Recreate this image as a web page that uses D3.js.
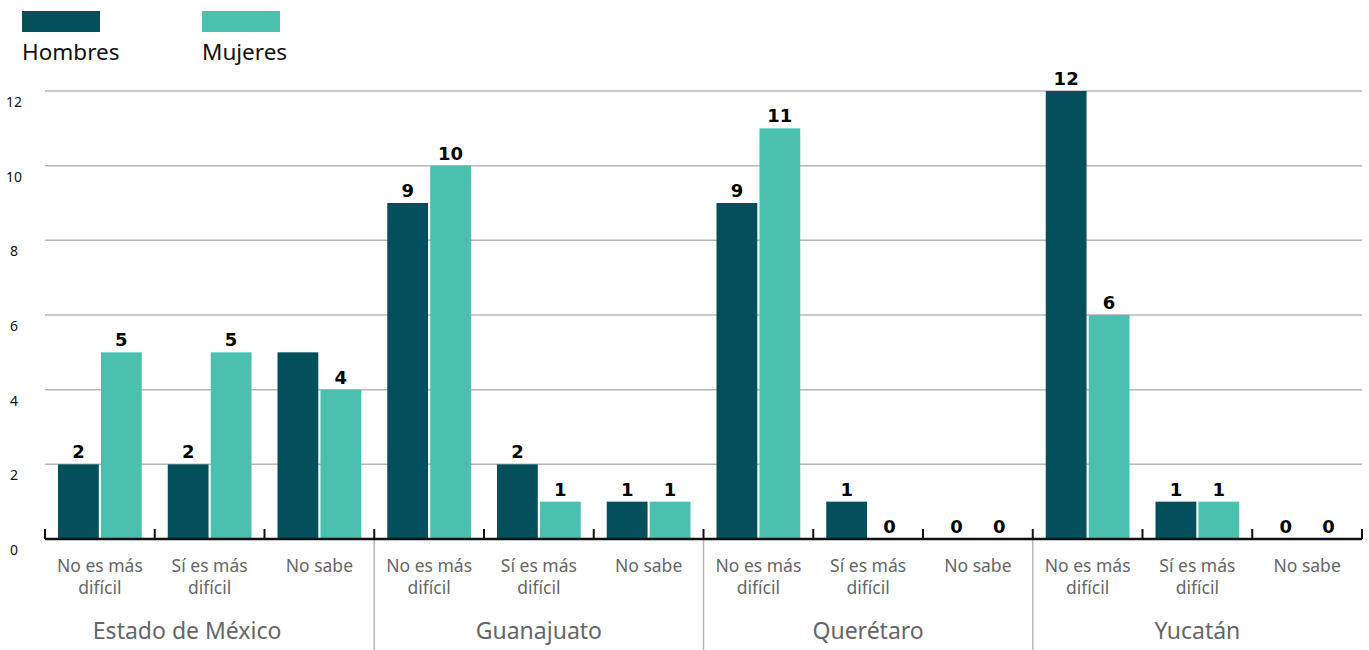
<!DOCTYPE html>
<html>
<head>
<meta charset="utf-8">
<script src="https://cdn.jsdelivr.net/npm/d3@7"></script>
<style>
  html, body { margin: 0; padding: 0; background: #fff; }
  svg { display: block; }
</style>
</head>
<body>
<svg id="chart" width="1369" height="650"></svg>
<script>
const groups = ["Estado de México", "Guanajuato", "Querétaro", "Yucatán"];
const answers = ["No es más difícil", "Sí es más difícil", "No sabe"];
const answerLines = [["No es más", "difícil"], ["Sí es más", "difícil"], ["No sabe"]];
const seriesNames = ["Hombres", "Mujeres"];
const hombres = [2, 2, 5, 9, 2, 1, 9, 1, 0, 12, 1, 0];
const mujeres = [5, 5, 4, 10, 1, 1, 11, 0, 0, 6, 1, 0];
// value labels not shown in the original (Hombres, "No sabe", Estado de México)
const hiddenLabels = ["Hombres-2"];
const yTicks = [0, 2, 4, 6, 8, 10, 12];
const colors = ["#03505c", "#4bc0ae"];

(function () {
const svg = d3.select("#chart");
const font = "'Noto Sans', 'Open Sans', sans-serif";

const cats = [];
groups.forEach((g, gi) => answers.forEach((a, ai) => cats.push({ key: gi + "-" + ai, group: g, gi, ai })));
const rows = cats.map((c, i) => ({ ...c, idx: i, values: [hombres[i], mujeres[i]] }));

const mL = 45, mR = 1362, mT = 91, mB = 539;
const x = d3.scaleBand().domain(cats.map(c => c.key)).range([mL, mR]).paddingInner(0).paddingOuter(0);
const inner = d3.scaleBand().domain(seriesNames).range([13, x.bandwidth() - 13]).paddingInner(0.05);
const y = d3.scaleLinear().domain([0, 12]).range([mB, mT]);

// gridlines
svg.append("g").selectAll("line").data(yTicks.filter(t => t > 0)).join("line")
  .attr("x1", mL).attr("x2", mR)
  .attr("y1", d => y(d)).attr("y2", d => y(d))
  .attr("stroke", "#b8b8bc").attr("stroke-width", 1.5);

// y labels
svg.append("g").selectAll("text").data(yTicks).join("text")
  .attr("x", 14).attr("y", d => y(d) + 16)
  .attr("text-anchor", "middle")
  .attr("font-family", font).attr("font-size", 14).attr("fill", "#111")
  .text(d => d);

// group separators
const groupBounds = groups.map((g, gi) => [gi === 0 ? 0 : x(gi + "-0"), x(gi + "-2") + x.bandwidth()]);
svg.append("g").selectAll("line").data(groupBounds.slice(0, -1)).join("line")
  .attr("x1", d => d[1]).attr("x2", d => d[1])
  .attr("y1", mB).attr("y2", 650)
  .attr("stroke", "#b8b8bc").attr("stroke-width", 1.5);

// bars
const barG = svg.append("g").selectAll("g").data(rows).join("g")
  .attr("transform", d => `translate(${x(d.key)},0)`);
const barData = d => d.values.map((v, i) => ({ v, s: seriesNames[i], i, id: seriesNames[i] + "-" + d.idx }));
barG.selectAll("rect").data(barData).join("rect")
  .attr("x", d => inner(d.s)).attr("width", inner.bandwidth())
  .attr("y", d => y(d.v)).attr("height", d => y(0) - y(d.v))
  .attr("fill", d => colors[d.i]);
barG.selectAll("text").data(d => barData(d).filter(b => !hiddenLabels.includes(b.id))).join("text")
  .attr("x", d => inner(d.s) + inner.bandwidth() / 2)
  .attr("y", d => y(d.v) - 6)
  .attr("text-anchor", "middle")
  .attr("font-family", "'DejaVu Sans', sans-serif").attr("font-weight", "bold")
  .attr("font-size", 18).attr("fill", "#000")
  .text(d => d.v);

// x axis baseline with ticks
const tickXs = cats.map(c => x(c.key)).concat([mR]);
svg.append("line").attr("x1", mL).attr("x2", mR).attr("y1", mB).attr("y2", mB)
  .attr("stroke", "#111").attr("stroke-width", 2.5);
svg.append("g").selectAll("line").data(tickXs).join("line")
  .attr("x1", d => d).attr("x2", d => d).attr("y1", mB - 10).attr("y2", mB)
  .attr("stroke", "#111").attr("stroke-width", 2);

// category labels
const catLab = svg.append("g").selectAll("text").data(cats).join("text")
  .attr("x", d => x(d.key) + x.bandwidth() / 2)
  .attr("y", 572)
  .attr("text-anchor", "middle")
  .attr("font-family", font).attr("font-size", 17.5).attr("fill", "#666");
catLab.each(function (d) {
  const t = d3.select(this);
  const cx = x(d.key) + x.bandwidth() / 2;
  answerLines[d.ai].forEach((line, i) => {
    t.append("tspan").attr("x", cx).attr("dy", i === 0 ? 0 : 21.5).text(line);
  });
});

// group labels
svg.append("g").selectAll("text").data(groups).join("text")
  .attr("x", (d, i) => (groupBounds[i][0] + groupBounds[i][1]) / 2)
  .attr("y", 639)
  .attr("text-anchor", "middle")
  .attr("font-family", font).attr("font-size", 23).attr("fill", "#666")
  .text(d => d);

// legend
const legX = [22, 202];
const leg = svg.append("g").selectAll("g").data(seriesNames).join("g")
  .attr("transform", (d, i) => `translate(${legX[i]},0)`);
leg.append("rect").attr("x", 0).attr("y", 11).attr("width", 78).attr("height", 21)
  .attr("fill", (d, i) => colors[i]);
leg.append("text").attr("x", 0).attr("y", 60)
  .attr("font-family", font).attr("font-size", 22.5).attr("fill", "#111")
  .text(d => d);
})();
</script>
</body>
</html>
